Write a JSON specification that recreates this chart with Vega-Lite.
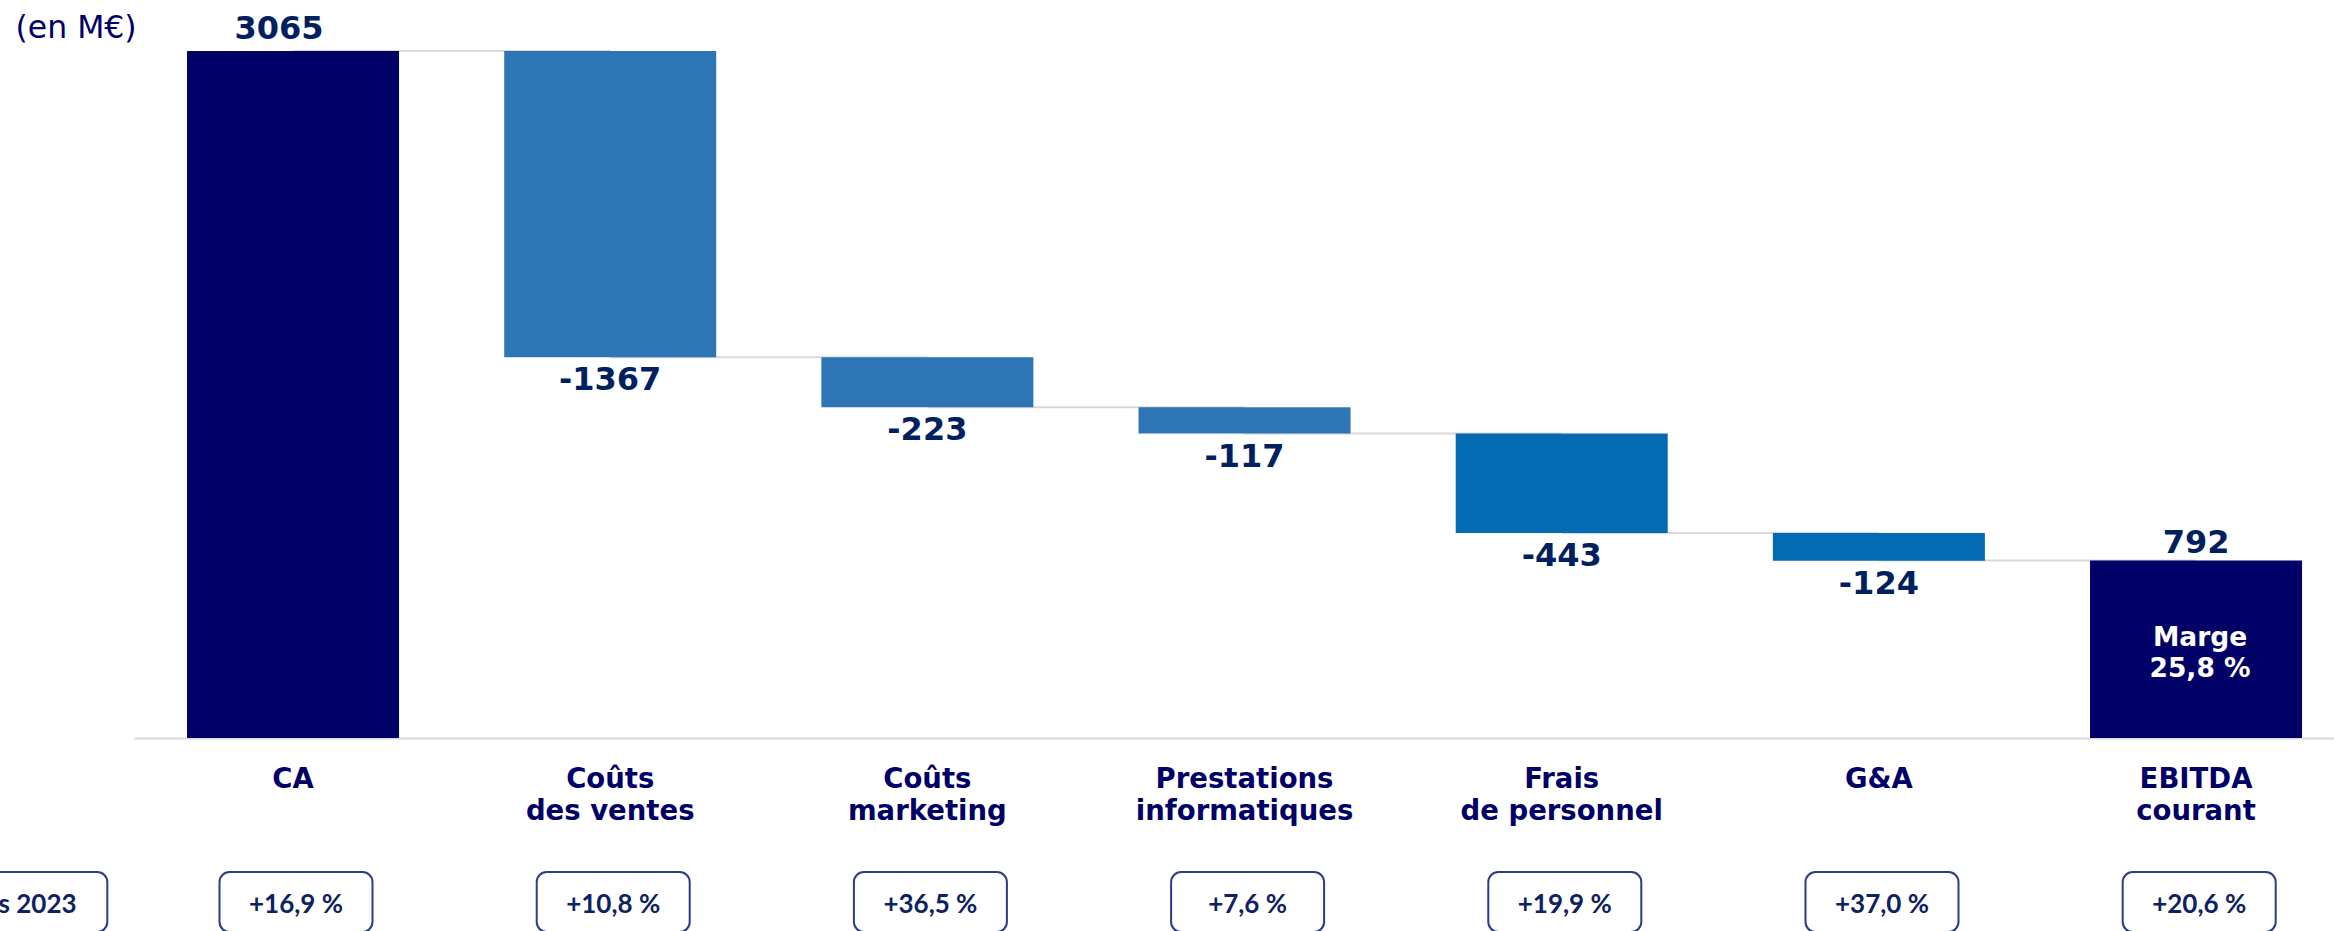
{
  "$schema": "https://vega.github.io/schema/vega-lite/v6.json",
  "autosize": {"type": "none"},
  "padding": {"left": 134, "top": 0, "right": 2200, "bottom": 931},
  "background": "white",
  "config": {"view": {"stroke": null}},
  "spacing": 134,
  "bounds": "flush",
  "resolve": {"scale": {"x": "independent", "y": "independent"}},
  "datasets": {
    "bars": [
      {"cat": "CA", "top": 3065, "bottom": 0, "value": "3065", "group": "total", "note": ""},
      {"cat": "Coûts|des ventes", "top": 3065, "bottom": 1698, "value": "-1367", "group": "cost1", "note": ""},
      {"cat": "Coûts|marketing", "top": 1698, "bottom": 1475, "value": "-223", "group": "cost1", "note": ""},
      {"cat": "Prestations|informatiques", "top": 1475, "bottom": 1358, "value": "-117", "group": "cost1", "note": ""},
      {"cat": "Frais|de personnel", "top": 1358, "bottom": 915, "value": "-443", "group": "cost2", "note": ""},
      {"cat": "G&A", "top": 915, "bottom": 791, "value": "-124", "group": "cost2", "note": ""},
      {"cat": "EBITDA|courant", "top": 792, "bottom": 0, "value": "792", "group": "total", "note": "Marge\n25,8 %"}
    ],
    "connectors": [
      {"cat": "CA", "next": "Coûts|des ventes", "level": 3065},
      {"cat": "Coûts|des ventes", "next": "Coûts|marketing", "level": 1698},
      {"cat": "Coûts|marketing", "next": "Prestations|informatiques", "level": 1475},
      {"cat": "Prestations|informatiques", "next": "Frais|de personnel", "level": 1358},
      {"cat": "Frais|de personnel", "next": "G&A", "level": 915},
      {"cat": "G&A", "next": "EBITDA|courant", "level": 792}
    ],
    "growth": [
      {"cat": "vs 2023", "growth": "vs 2023", "kind": "header"},
      {"cat": "CA", "growth": "+16,9 %", "kind": "item"},
      {"cat": "Coûts|des ventes", "growth": "+10,8 %", "kind": "item"},
      {"cat": "Coûts|marketing", "growth": "+36,5 %", "kind": "item"},
      {"cat": "Prestations|informatiques", "growth": "+7,6 %", "kind": "item"},
      {"cat": "Frais|de personnel", "growth": "+19,9 %", "kind": "item"},
      {"cat": "G&A", "growth": "+37,0 %", "kind": "item"},
      {"cat": "EBITDA|courant", "growth": "+20,6 %", "kind": "item"}
    ]
  },
  "vconcat": [
    {
      "width": 2200,
      "height": 738,
      "encoding": {
        "x": {
          "field": "cat", "type": "nominal", "sort": null,
          "scale": {
            "domain": ["CA", "Coûts|des ventes", "Coûts|marketing", "Prestations|informatiques", "Frais|de personnel", "G&A", "EBITDA|courant"],
            "paddingInner": 0.3316, "paddingOuter": 0.134, "align": 0.624
          },
          "axis": {
            "title": null, "orient": "bottom", "ticks": false, "domain": true,
            "domainColor": "#d9d9d9", "domainWidth": 2, "labelAngle": 0,
            "labelPadding": 27, "labelFont": "DejaVu Sans", "labelFontWeight": "bold",
            "labelFontSize": 27.5, "labelColor": "#000066", "labelLineHeight": 32,
            "labelLimit": 500, "labelExpr": "split(datum.label, '|')", "grid": false
          }
        }
      },
      "layer": [
        {
          "data": {"name": "connectors"},
          "mark": {"type": "rule", "color": "#d9d9d9", "strokeWidth": 2},
          "encoding": {
            "x2": {"field": "next"},
            "y": {
              "field": "level", "type": "quantitative",
              "scale": {"domain": [0, 3292], "nice": false, "zero": true},
              "axis": {
                "labels": false, "ticks": false, "domain": false, "grid": false,
                "title": "(en M€)", "titleAngle": 0, "titleX": -119, "titleY": 37,
                "titleAlign": "left", "titleBaseline": "alphabetic",
                "titleFont": "DejaVu Sans", "titleFontSize": 31.5, "titleFontWeight": "normal",
                "titleColor": "#000066"
              }
            }
          }
        },
        {
          "data": {"name": "bars"},
          "mark": {"type": "bar"},
          "encoding": {
            "y": {"field": "top", "type": "quantitative"},
            "y2": {"field": "bottom"},
            "color": {
              "field": "group", "type": "nominal", "legend": null,
              "scale": {"domain": ["total", "cost1", "cost2"], "range": ["#000066", "#2E75B6", "#036AB4"]}
            }
          }
        },
        {
          "data": {"name": "bars"},
          "transform": [{"filter": "datum.cat == 'CA'"}],
          "mark": {"type": "text", "font": "DejaVu Sans", "fontWeight": "bold", "fontSize": 32, "color": "#002060", "baseline": "alphabetic", "dx": -14, "dy": -12},
          "encoding": {"y": {"field": "top", "type": "quantitative"}, "text": {"field": "value"}}
        },
        {
          "data": {"name": "bars"},
          "transform": [{"filter": "datum.cat == 'EBITDA|courant'"}],
          "mark": {"type": "text", "font": "DejaVu Sans", "fontWeight": "bold", "fontSize": 32, "color": "#002060", "baseline": "alphabetic", "dy": -7},
          "encoding": {"y": {"field": "top", "type": "quantitative"}, "text": {"field": "value"}}
        },
        {
          "data": {"name": "bars"},
          "transform": [{"filter": "datum.group != 'total'"}],
          "mark": {"type": "text", "font": "DejaVu Sans", "fontWeight": "bold", "fontSize": 32, "color": "#002060", "baseline": "alphabetic", "dy": 33},
          "encoding": {"y": {"field": "bottom", "type": "quantitative"}, "text": {"field": "value"}}
        },
        {
          "data": {"name": "bars"},
          "transform": [{"filter": "datum.note != ''"}],
          "mark": {"type": "text", "font": "DejaVu Sans", "fontWeight": "bold", "fontSize": 26.5, "color": "white", "baseline": "alphabetic", "lineBreak": "\n", "lineHeight": 31, "dx": 4, "dy": 86},
          "encoding": {"y": {"field": "top", "type": "quantitative"}, "text": {"field": "note"}}
        }
      ]
    },
    {
      "width": 2200,
      "height": 60,
      "data": {"name": "growth"},
      "encoding": {
        "x": {
          "field": "cat", "type": "nominal", "sort": null,
          "scale": {
            "domain": ["vs 2023", "CA", "Coûts|des ventes", "Coûts|marketing", "Prestations|informatiques", "Frais|de personnel", "G&A", "EBITDA|courant"],
            "paddingInner": 0.3316, "paddingOuter": 0, "range": [-264.2, 2168.2]
          },
          "axis": null
        }
      },
      "layer": [
        {
          "transform": [{"filter": "datum.kind != 'header'"}],
          "mark": {"type": "bar", "width": 153, "cornerRadius": 10, "fill": "white", "stroke": "#2E3A8A", "strokeWidth": 2, "xOffset": 3}
        },
        {
          "transform": [{"filter": "datum.kind == 'header'"}],
          "mark": {"type": "bar", "width": 153, "cornerRadius": 10, "fill": "white", "stroke": "#2E3A8A", "strokeWidth": 2, "xOffset": 55}
        },
        {
          "transform": [{"filter": "datum.kind != 'header'"}],
          "mark": {"type": "text", "font": "Lato", "fontWeight": "bold", "fontSize": 26, "color": "#0D2260", "baseline": "middle", "dy": 3, "dx": 3},
          "encoding": {"text": {"field": "growth"}}
        },
        {
          "transform": [{"filter": "datum.kind == 'header'"}],
          "mark": {"type": "text", "font": "Lato", "fontWeight": "bold", "fontSize": 26, "color": "#0D2260", "baseline": "middle", "dy": 3, "dx": 55},
          "encoding": {"text": {"field": "growth"}}
        }
      ]
    }
  ]
}
